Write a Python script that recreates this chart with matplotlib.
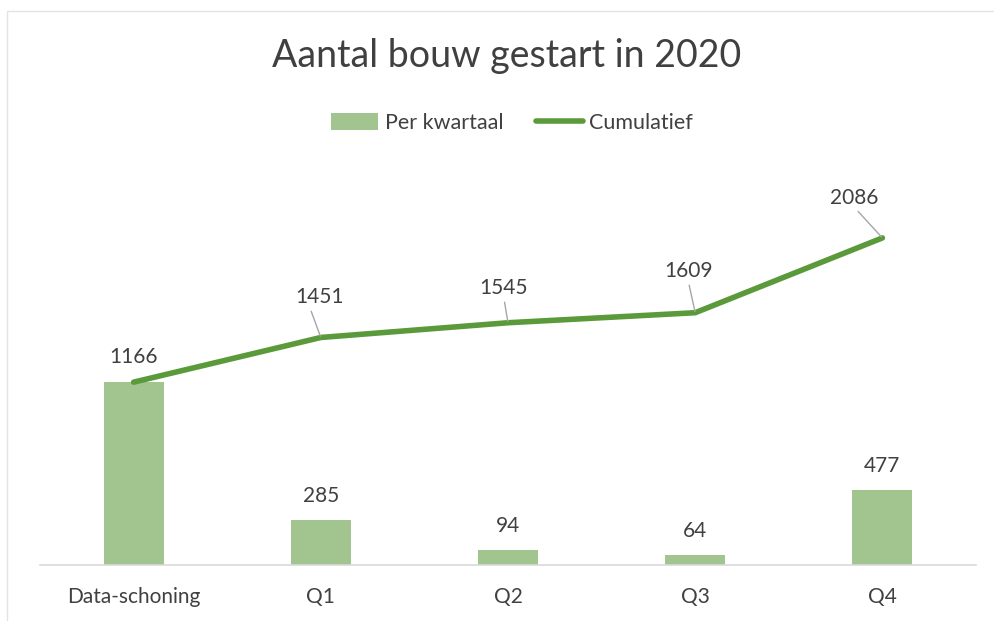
import numpy as np
import matplotlib
matplotlib.use("Agg")
import matplotlib.pyplot as plt
from matplotlib.patches import Rectangle

# data
categories = ["Data-schoning", "Q1", "Q2", "Q3", "Q4"]
per_kwartaal = [1166, 285, 94, 64, 477]
cumulatief = [1166, 1451, 1545, 1609, 2086]
title = "Aantal bouw gestart in 2020"

bar_color = "#a2c590"
line_color = "#5b9a3a"
text_color = "#404040"
plt.rcParams["font.family"] = ["Lato", "DejaVu Sans"]

fig = plt.figure(figsize=(9.94, 6.21), dpi=100)
ax = fig.add_axes([40 / 994, 56 / 621, 936 / 994, 392 / 621])

x = np.arange(len(categories))
bars = ax.bar(x, per_kwartaal, width=0.32, color=bar_color, label="Per kwartaal", zorder=2)
line, = ax.plot(x, cumulatief, color=line_color, lw=4, solid_capstyle="round",
                label="Cumulatief", zorder=3)

ax.set_xlim(-0.5, len(categories) - 0.5)
ax.set_ylim(0, 2500)
ax.set_xticks(x)
ax.set_xticklabels(categories, fontsize=15, color=text_color)
ax.tick_params(axis="x", length=0, pad=16)
ax.set_yticks([])
for s in ["top", "right", "left"]:
    ax.spines[s].set_visible(False)
ax.spines["bottom"].set_color("#d9d9d9")
ax.spines["bottom"].set_linewidth(1.2)

# bar labels
for xi, v in zip(x, per_kwartaal):
    if xi == 0:
        continue
    ax.annotate(str(v), (xi, v), xytext=(0, 17.5), textcoords="offset points",
                ha="center", va="center", fontsize=15, color=text_color)

# line labels, with small grey leader lines
offsets = [(0, 18), (-1, 29), (-3, 25), (-5, 30), (-20, 29)]
lead_x = [0.5, 0.3, 0.5, 0.5, 0.5]
for xi, v, off, rx in zip(x, cumulatief, offsets, lead_x):
    if xi == 0:
        ax.annotate(str(v), (xi, v), xytext=off, textcoords="offset points",
                    ha="center", va="center", fontsize=15, color=text_color)
    else:
        ax.annotate(str(v), (xi, v), xytext=off, textcoords="offset points",
                    ha="center", va="center", fontsize=15, color=text_color,
                    arrowprops=dict(arrowstyle="-", color="#a6a6a6", lw=1,
                                    relpos=(rx, 0), shrinkA=1, shrinkB=1))

fig.text(507 / 994, 1 - 56 / 621, title, ha="center", va="center",
         fontsize=27, color=text_color)

fig.legend([bars, line], ["Per kwartaal", "Cumulatief"], loc="center",
           bbox_to_anchor=(512 / 994, 1 - 123 / 621), ncol=2,
           frameon=False, fontsize=15.5, handlelength=2.2, handleheight=0.8,
           handletextpad=0.3, columnspacing=1.5, labelcolor=text_color)

fig.patches.append(Rectangle((7 / 994, -0.01), 1.0, 1 - 11 / 621 + 0.01,
                             transform=fig.transFigure, fill=False,
                             edgecolor="#e3e3e3", lw=1))

fig.savefig("out.png", dpi=100)
